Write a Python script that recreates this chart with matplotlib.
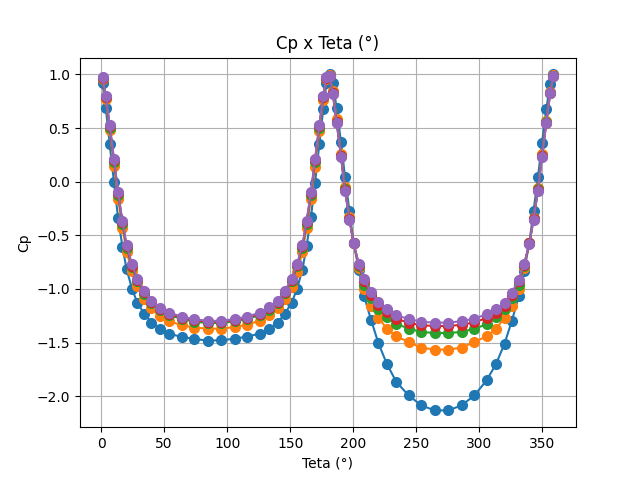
import matplotlib
matplotlib.use("Agg")
import matplotlib.pyplot as plt

teta = [1.2, 3.8, 6.9, 10.3, 13.5, 17.0, 20.3, 24.5, 28.7, 34.2, 40.0, 46.6, 54.1, 63.9, 74.0, 84.6,
        95.4, 106.0, 116.1, 125.9, 133.4, 140.0, 145.8, 151.3, 155.5, 159.7, 163.0, 166.5, 169.7, 173.1, 176.2, 178.8,
        181.2, 183.8, 186.9, 190.3, 193.5, 197.0, 200.3, 204.5, 208.7, 214.2, 220.0, 226.6, 234.1, 243.9, 254.0, 264.6,
        275.4, 286.0, 296.1, 305.9, 313.4, 320.0, 325.8, 331.3, 335.5, 339.7, 343.0, 346.5, 349.7, 353.1, 356.2, 358.8]

cp_blue = [0.916, 0.683, 0.347, -0.007, -0.338, -0.608, -0.816, -0.996, -1.127, -1.23, -1.313, -1.37, -1.416, -1.448, -1.466, -1.481,
           -1.479, -1.463, -1.444, -1.416, -1.37, -1.315, -1.23, -1.127, -0.996, -0.819, -0.602, -0.328, -0.011, 0.347, 0.674, 0.916,
           1.0, 0.916, 0.683, 0.366, 0.045, -0.272, -0.571, -0.819, -1.07, -1.29, -1.507, -1.696, -1.865, -1.992, -2.085, -2.132,
           -2.132, -2.085, -1.992, -1.85, -1.696, -1.51, -1.298, -1.068, -0.832, -0.571, -0.272, 0.039, 0.362, 0.674, 0.912, 1.0]

cp_orange = [0.955, 0.767, 0.48, 0.15, -0.16, -0.43, -0.655, -0.835, -0.975, -1.09, -1.18, -1.253, -1.30, -1.338, -1.36, -1.37,
             -1.37, -1.355, -1.333, -1.295, -1.245, -1.18, -1.09, -0.985, -0.84, -0.66, -0.43, -0.165, 0.14, 0.47, 0.76, 0.955,
             0.99, 0.845, 0.58, 0.26, -0.05, -0.33, -0.575, -0.80, -0.996, -1.16, -1.267, -1.37, -1.441, -1.494, -1.547, -1.565,
             -1.565, -1.547, -1.494, -1.441, -1.37, -1.267, -1.16, -0.996, -0.80, -0.575, -0.335, -0.06, 0.255, 0.57, 0.84, 0.99]

cp_green = [0.965, 0.785, 0.505, 0.185, -0.12, -0.39, -0.615, -0.795, -0.93, -1.045, -1.135, -1.198, -1.243, -1.28, -1.305, -1.318,
            -1.318, -1.302, -1.28, -1.243, -1.195, -1.132, -1.04, -0.928, -0.79, -0.617, -0.392, -0.12, 0.185, 0.505, 0.785, 0.967,
            0.987, 0.83, 0.56, 0.243, -0.07, -0.345, -0.574, -0.785, -0.965, -1.08, -1.183, -1.261, -1.323, -1.37, -1.401, -1.41,
            -1.41, -1.401, -1.37, -1.33, -1.261, -1.183, -1.08, -0.965, -0.785, -0.574, -0.345, -0.07, 0.243, 0.555, 0.83, 0.988]

cp_red = [0.968, 0.792, 0.515, 0.198, -0.107, -0.38, -0.603, -0.782, -0.915, -1.03, -1.122, -1.184, -1.23, -1.268, -1.292, -1.305,
          -1.305, -1.29, -1.268, -1.23, -1.182, -1.12, -1.027, -0.915, -0.777, -0.603, -0.38, -0.107, 0.198, 0.515, 0.792, 0.97,
          0.985, 0.823, 0.553, 0.235, -0.079, -0.351, -0.574, -0.775, -0.93, -1.055, -1.145, -1.217, -1.278, -1.314, -1.338, -1.345,
          -1.345, -1.334, -1.311, -1.27, -1.22, -1.155, -1.055, -0.93, -0.78, -0.576, -0.35, -0.08, 0.236, 0.548, 0.826, 0.987]

cp_purple = [0.972, 0.80, 0.527, 0.21, -0.095, -0.368, -0.592, -0.77, -0.903, -1.019, -1.112, -1.174, -1.22, -1.258, -1.282, -1.297,
             -1.298, -1.28, -1.258, -1.22, -1.172, -1.11, -1.015, -0.903, -0.765, -0.592, -0.368, -0.095, 0.21, 0.527, 0.80, 0.975,
             0.985, 0.82, 0.549, 0.231, -0.083, -0.353, -0.574, -0.77, -0.911, -1.03, -1.117, -1.187, -1.245, -1.28, -1.306, -1.314,
             -1.314, -1.30, -1.277, -1.235, -1.19, -1.127, -1.034, -0.912, -0.77, -0.577, -0.353, -0.086, 0.231, 0.543, 0.823, 0.987]

series = [cp_blue, cp_orange, cp_green, cp_red, cp_purple]
colors = ["#1f77b4", "#ff7f0e", "#2ca02c", "#d62728", "#9467bd"]

fig, ax = plt.subplots(figsize=(6.4, 4.8), dpi=100)
for cp, c in zip(series, colors):
    ax.plot(teta, cp, "o-", color=c, markersize=7)
ax.set_title("Cp x Teta (°)")
ax.set_xlabel("Teta (°)")
ax.set_ylabel("Cp")
ax.grid(True)
fig.savefig("out.png", dpi=100)
